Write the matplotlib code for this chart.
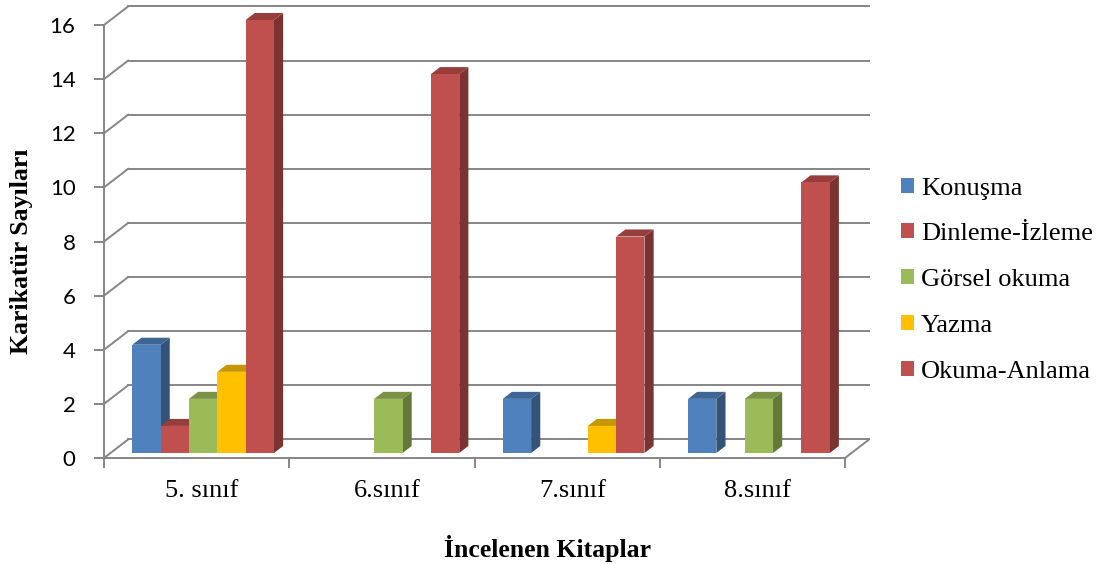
import matplotlib.pyplot as plt
from matplotlib.patches import Polygon, Patch
import matplotlib.colors as mcolors

plt.rcParams['font.family'] = ['Liberation Serif', 'DejaVu Serif']

# data
categories = ['5. sınıf', '6.sınıf', '7.sınıf', '8.sınıf']
series = ['Konuşma', 'Dinleme-İzleme', 'Görsel okuma', 'Yazma', 'Okuma-Anlama']
konusma = [4, 0, 2, 2]
dinleme = [1, 0, 0, 0]
gorsel = [2, 2, 0, 2]
yazma = [3, 0, 1, 0]
okuma = [16, 14, 8, 10]
values = [konusma, dinleme, gorsel, yazma, okuma]
colors = ['#4F81BD', '#C0504D', '#9BBB59', '#FFC000', '#C0504D']
yticks = list(range(0, 17, 2))

grid_col = '#868686'

fig = plt.figure(figsize=(10.97, 5.64), dpi=100)
ax = fig.add_axes([104 / 1097, 106 / 564, 741 / 1097, 433 / 564])
ax.set_xlim(0, 4)
ax.set_ylim(0, 16)

# 3d depth of the back wall, in data units
DX, DY = 0.13, 0.684
f0, f1 = 0.27, 0.65
w = 0.153


def shade(c, k):
    r, g, b = mcolors.to_rgb(c)
    return (r * k, g * k, b * k)


# back wall grid + left wall diagonals
for v in yticks:
    ax.plot([DX, 4 + DX], [v + DY, v + DY], color=grid_col, lw=1.4, clip_on=False, zorder=1)
    ax.plot([0, DX], [v, v + DY], color=grid_col, lw=1.4, clip_on=False, zorder=1)
ax.plot([4, 4 + DX], [0, DY], color=grid_col, lw=1.4, clip_on=False, zorder=1)

# bars
for i in range(len(categories)):
    start = i + 0.5 - 2.5 * w
    for j, s in enumerate(series):
        v = values[j][i]
        if v == 0:
            continue
        x0 = start + j * w
        c = colors[j]
        side = Polygon([(x0 + w + f0 * DX, f0 * DY), (x0 + w + f1 * DX, f1 * DY),
                        (x0 + w + f1 * DX, f1 * DY + v), (x0 + w + f0 * DX, f0 * DY + v)],
                       closed=True, facecolor=shade(c, 0.64), edgecolor='none', zorder=3,
                       clip_on=False)
        top = Polygon([(x0 + f0 * DX, f0 * DY + v), (x0 + w + f0 * DX, f0 * DY + v),
                       (x0 + w + f1 * DX, f1 * DY + v), (x0 + f1 * DX, f1 * DY + v)],
                      closed=True, facecolor=shade(c, 0.78), edgecolor='none', zorder=3,
                      clip_on=False)
        ax.add_patch(side)
        ax.add_patch(top)
        ax.bar(x0 + f0 * DX, v, width=w, bottom=f0 * DY, align='edge', color=c,
               edgecolor='none', zorder=3, clip_on=False)

# axes styling
for sp in ['top', 'right']:
    ax.spines[sp].set_visible(False)
for sp in ['left', 'bottom']:
    ax.spines[sp].set_color(grid_col)
    ax.spines[sp].set_linewidth(1.4)
ax.set_yticks(yticks)
ax.set_yticklabels([str(t) for t in yticks], family='Lato', fontsize=16)
ax.tick_params(axis='y', length=7, width=1.4, color=grid_col, pad=13.5)
ax.set_xticks([0, 1, 2, 3, 4])
ax.set_xticklabels([])
ax.tick_params(axis='x', which='major', length=7, width=1.4, color=grid_col)
ax.set_xticks([i + 0.5 + 0.03 for i in range(4)], minor=True)
ax.set_xticklabels(categories, minor=True, fontsize=19)
ax.tick_params(axis='x', which='minor', length=0, pad=16)

ax.set_ylabel('Karikatür Sayıları', fontsize=18.5, fontweight='bold', va='center')
ax.yaxis.set_label_coords(-0.112, 0.478)
ax.set_xlabel('İncelenen Kitaplar', fontsize=18.5, fontweight='bold', va='center')
ax.xaxis.set_label_coords(0.598, -0.208)

handles = [Patch(facecolor=c, edgecolor='none') for c in colors]
fig.legend(handles, series, loc='center left', bbox_to_anchor=(901 / 1097, 1 - 280 / 564),
           frameon=False, fontsize=19, borderpad=0, borderaxespad=0,
           handlelength=0.5, handleheight=0.5, handletextpad=0.25, labelspacing=0.9)

fig.savefig('out.png', dpi=100)
